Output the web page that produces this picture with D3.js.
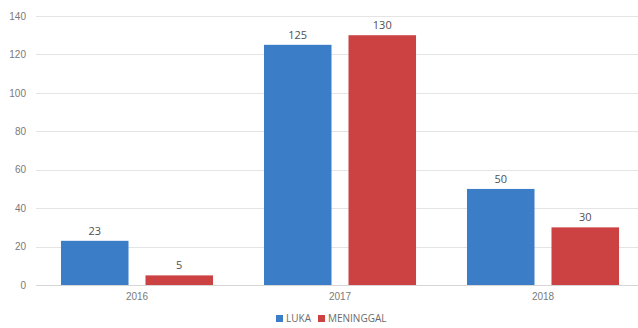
<!DOCTYPE html>
<html>
<head>
<meta charset="utf-8">
<script src="https://cdn.jsdelivr.net/npm/d3@7/dist/d3.min.js"></script>
<style>
  html, body { margin: 0; padding: 0; background: #fff; }
  svg { display: block; font-family: "Open Sans", "Liberation Sans", sans-serif; }
</style>
</head>
<body>
<svg id="chart" width="638" height="328"></svg>
<script>
// Yearly counts of casualties
const years = ["2016", "2017", "2018"];
const seriesNames = ["LUKA", "MENINGGAL"];
const luka = [23, 125, 50];
const meninggal = [5, 130, 30];
const yTicks = [0, 20, 40, 60, 80, 100, 120, 140];
const colors = ["#3c7dc8", "#cc4141"];

const svg = d3.select("#chart");
const W = 638, H = 328;
const margin = { left: 35.5, top: 16, bottom: 43 };
const bandRight = 644.5;   // outer edge of the last category band

const y = d3.scaleLinear().domain([0, 140]).range([H - margin.bottom, margin.top]);
const x0 = d3.scaleBand().domain(years).range([margin.left, bandRight])
  .paddingInner(0.251).paddingOuter(0.251 / 2);
const x1 = d3.scaleBand().domain(seriesNames).range([0, x0.bandwidth()])
  .paddingInner(0.201).paddingOuter(0);

// gridlines
svg.append("g")
  .selectAll("line")
  .data(yTicks.slice(1))
  .join("line")
  .attr("x1", 36).attr("x2", W)
  .attr("y1", d => Math.round(y(d)) + 0.5).attr("y2", d => Math.round(y(d)) + 0.5)
  .attr("stroke", "#e4e4e4").attr("stroke-width", 1);

// y axis labels
const yAxis = d3.axisLeft(y).tickValues(yTicks).tickSize(0).tickPadding(10);
svg.append("g")
  .attr("transform", "translate(36,0)")
  .call(yAxis)
  .call(g => g.select(".domain").remove())
  .call(g => g.selectAll("text").attr("fill", "#7a7a7a").attr("font-size", 10));

const rows = years.map((yr, i) => ({ year: yr, values: [luka[i], meninggal[i]] }));

const groups = svg.append("g")
  .selectAll("g")
  .data(rows)
  .join("g")
  .attr("transform", d => `translate(${x0(d.year)},0)`);

groups.selectAll("rect")
  .data(d => d.values.map((v, k) => ({ name: seriesNames[k], v, k })))
  .join("rect")
  .attr("x", d => x1(d.name))
  .attr("width", x1.bandwidth())
  .attr("y", d => y(d.v))
  .attr("height", d => y(0) - y(d.v))
  .attr("fill", d => colors[d.k]);

groups.selectAll("text.val")
  .data(d => d.values.map((v, k) => ({ name: seriesNames[k], v, k })))
  .join("text")
  .attr("class", "val")
  .attr("x", d => x1(d.name) + x1.bandwidth() / 2)
  .attr("y", d => y(d.v) - 6)
  .attr("text-anchor", "middle")
  .attr("font-size", 11)
  .attr("fill", "#505050")
  .text(d => d.v);

// x axis baseline and labels
svg.append("line")
  .attr("x1", 36).attr("x2", W)
  .attr("y1", Math.round(y(0)) + 0.5).attr("y2", Math.round(y(0)) + 0.5)
  .attr("stroke", "#d6d6d6");

const xAxis = d3.axisBottom(x0).tickSize(0).tickPadding(8);
svg.append("g")
  .attr("transform", `translate(0,${y(0)})`)
  .call(xAxis)
  .call(g => g.select(".domain").remove())
  .call(g => g.selectAll("text").attr("fill", "#7a7a7a").attr("font-size", 10));

// legend
const legend = svg.append("g").attr("transform", "translate(276,322)");
const legendOffsets = [0, 42];
seriesNames.forEach((name, k) => {
  const g = legend.append("g").attr("transform", `translate(${legendOffsets[k]},0)`);
  g.append("rect").attr("x", 0).attr("y", -7).attr("width", 7).attr("height", 7).attr("fill", colors[k]);
  g.append("text").attr("x", 10).attr("y", 0).attr("font-size", 10).attr("fill", "#6a6a6a").text(name);
});
</script>
</body>
</html>
